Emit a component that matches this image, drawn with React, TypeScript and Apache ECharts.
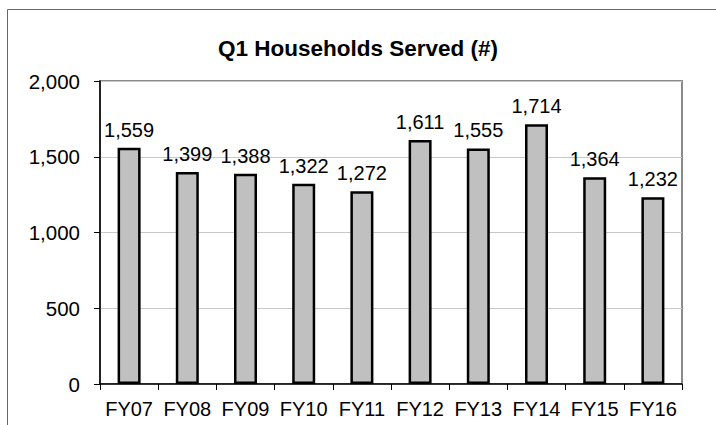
import React, { useEffect, useRef } from "react";
import * as echarts from "echarts";

const title = "Q1 Households Served (#)";
const categories = ["FY07", "FY08", "FY09", "FY10", "FY11", "FY12", "FY13", "FY14", "FY15", "FY16"];
const households = [1559, 1399, 1388, 1322, 1272, 1611, 1555, 1714, 1364, 1232];
const yMin = 0;
const yMax = 2000;
const yStep = 500;

const FONT = "'Liberation Sans', Arial, Helvetica, sans-serif";
const fmt = (v: number) => v.toLocaleString("en-US");

export default function App() {
  const ref = useRef<HTMLDivElement>(null);
  useEffect(() => {
    if (!ref.current) return;
    const chart = echarts.init(ref.current, undefined, { renderer: "svg" });
    chart.setOption({
      animation: false,
      backgroundColor: "#ffffff",
      textStyle: { fontFamily: FONT, color: "#000" },
      title: {
        text: title,
        left: "center",
        top: 32,
        textStyle: { fontFamily: FONT, fontSize: 22.5, fontWeight: "bold", color: "#000" },
      },
      graphic: [
        {
          type: "rect",
          shape: { x: 7.5, y: 9.5, width: 1200, height: 1200 },
          style: { fill: "none", stroke: "#666", lineWidth: 1 },
          silent: true,
        },
      ],
      grid: {
        left: 100,
        right: 34,
        top: 81,
        bottom: 41,
        show: true,
        borderColor: "#8a8a8a",
        borderWidth: 2,
        backgroundColor: "transparent",
      },
      xAxis: {
        type: "category",
        data: categories,
        boundaryGap: true,
        axisLine: { show: true, lineStyle: { color: "#000", width: 1.5 } },
        axisTick: { show: true, length: 6, inside: false, alignWithLabel: false, interval: 0, lineStyle: { color: "#000", width: 1 } },
        axisLabel: { fontFamily: FONT, fontSize: 20, color: "#000", margin: 15, interval: 0 },
        splitLine: { show: false },
      },
      yAxis: {
        type: "value",
        min: yMin,
        max: yMax,
        interval: yStep,
        axisLine: { show: true, lineStyle: { color: "#000", width: 1.5 } },
        axisTick: { show: true, length: 6, inside: false, lineStyle: { color: "#000", width: 1 } },
        axisLabel: { fontFamily: FONT, fontSize: 20.5, color: "#000", margin: 20, formatter: (v: number) => fmt(v) },
        splitLine: { show: true, lineStyle: { color: "#c8c8c8", width: 1 } },
      },
      series: [
        {
          type: "bar",
          data: households,
          barWidth: 23,
          itemStyle: { color: "#c0c0c0", borderColor: "#000", borderWidth: 2.5 },
          label: {
            show: true,
            position: "top",
            distance: 8,
            fontFamily: FONT,
            fontSize: 20,
            color: "#000",
            formatter: (p: any) => fmt(p.value),
          },
        },
      ],
    });
    return () => chart.dispose();
  }, []);
  return (
    <div
      ref={ref}
      style={{ position: "fixed", left: 0, top: 0, width: 716, height: 425, background: "#fff" }}
    />
  );
}
